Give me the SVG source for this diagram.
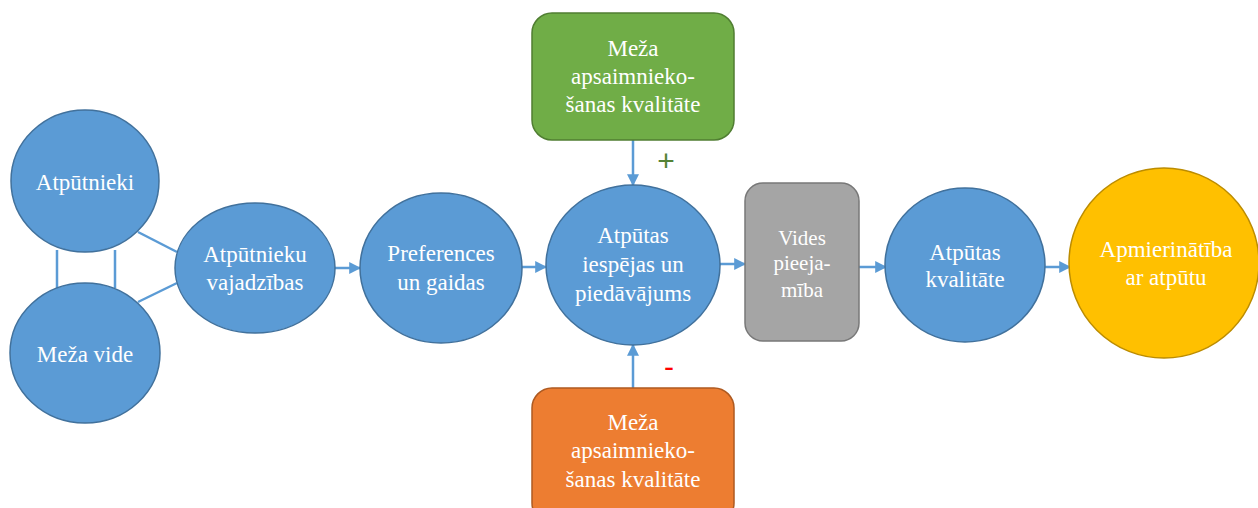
<svg xmlns="http://www.w3.org/2000/svg" width="1258" height="508" viewBox="0 0 1258 508">
<defs>
<style>
.blue{fill:#5B9BD5;stroke:#41719C;stroke-width:1.5}
.green{fill:#70AD47;stroke:#507E32;stroke-width:1.5}
.orange{fill:#ED7D31;stroke:#AE5A21;stroke-width:1.5}
.grey{fill:#A5A5A5;stroke:#787878;stroke-width:1.5}
.yellow{fill:#FFC000;stroke:#BC8C00;stroke-width:1.5}
.lbl{font-size:23px;fill:#FFFFFF;text-anchor:middle}
.small{font-size:21px}
.conn{stroke:#5B9BD5;stroke-width:2.5;fill:none}
.sign{font-size:30px;text-anchor:middle}
</style>
<marker id="arr" viewBox="0 0 10 10" refX="9" refY="5" markerWidth="4.8" markerHeight="4.8" orient="auto" markerUnits="strokeWidth">
<path d="M0,0 L10,5 L0,10 z" fill="#5B9BD5"/>
</marker>
</defs>
<rect width="1258" height="508" fill="#FFFFFF"/>
<g id="connectors">
<line class="conn" x1="57" y1="250" x2="57" y2="288"/>
<line class="conn" x1="115" y1="250" x2="115" y2="288"/>
<line class="conn" x1="138" y1="232" x2="177" y2="252"/>
<line class="conn" x1="138" y1="302" x2="177" y2="283"/>
<line class="conn" x1="335" y1="268" x2="360" y2="268" marker-end="url(#arr)"/>
<line class="conn" x1="522" y1="267" x2="546" y2="267" marker-end="url(#arr)"/>
<line class="conn" x1="633" y1="140" x2="633" y2="185" marker-end="url(#arr)"/>
<line class="conn" x1="633" y1="388" x2="633" y2="345" marker-end="url(#arr)"/>
<line class="conn" x1="720" y1="264" x2="745" y2="264" marker-end="url(#arr)"/>
<line class="conn" x1="859" y1="267" x2="886" y2="267" marker-end="url(#arr)"/>
<line class="conn" x1="1045" y1="267" x2="1070" y2="267" marker-end="url(#arr)"/>
</g>
<g font-family="Liberation Serif, DejaVu Serif, serif">
<g id="n-atputnieki">
<ellipse class="blue" cx="85" cy="181" rx="74" ry="71"/>
<text class="lbl" x="85" y="190">Atpūtnieki</text>
</g>
<g id="n-meza-vide">
<ellipse class="blue" cx="85" cy="353" rx="75" ry="70"/>
<text class="lbl" x="85" y="362">Meža vide</text>
</g>
<g id="n-vajadzibas">
<ellipse class="blue" cx="255" cy="268" rx="80" ry="65"/>
<text class="lbl" x="255" y="262">Atpūtnieku</text>
<text class="lbl" x="255" y="290">vajadzības</text>
</g>
<g id="n-preferences">
<ellipse class="blue" cx="441" cy="268" rx="81" ry="75"/>
<text class="lbl" x="441" y="261">Preferences</text>
<text class="lbl" x="441" y="290">un gaidas</text>
</g>
<g id="n-iespejas">
<ellipse class="blue" cx="633" cy="265" rx="87" ry="80"/>
<text class="lbl" x="633" y="243">Atpūtas</text>
<text class="lbl" x="633" y="272">iespējas un</text>
<text class="lbl" x="633" y="301">piedāvājums</text>
</g>
<g id="n-green">
<rect class="green" x="532" y="13" width="202" height="127" rx="20" ry="20"/>
<text class="lbl" x="633" y="56">Meža</text>
<text class="lbl" x="633" y="84">apsaimnieko-</text>
<text class="lbl" x="633" y="112">šanas kvalitāte</text>
</g>
<g id="n-orange">
<rect class="orange" x="532" y="388" width="202" height="135" rx="20" ry="20"/>
<text class="lbl" x="633" y="430">Meža</text>
<text class="lbl" x="633" y="458">apsaimnieko-</text>
<text class="lbl" x="633" y="487">šanas kvalitāte</text>
</g>
<g id="n-vides">
<rect class="grey" x="745" y="183" width="114" height="158" rx="18" ry="18"/>
<text class="lbl small" x="802" y="245">Vides</text>
<text class="lbl small" x="802" y="270">pieeja-</text>
<text class="lbl small" x="802" y="297">mība</text>
</g>
<g id="n-kvalitate">
<ellipse class="blue" cx="965" cy="265" rx="80" ry="77"/>
<text class="lbl" x="965" y="260">Atpūtas</text>
<text class="lbl" x="965" y="287">kvalitāte</text>
</g>
<g id="n-apmierinatiba">
<ellipse class="yellow" cx="1164" cy="263" rx="95" ry="95"/>
<text class="lbl" x="1166" y="257">Apmierinātība</text>
<text class="lbl" x="1166" y="285">ar atpūtu</text>
</g>
</g>
<g id="signs" font-family="Liberation Sans, Arial, sans-serif">
<text class="sign" x="666" y="171" fill="#548235">+</text>
<text class="sign" x="669" y="377" fill="#FF0000">-</text>
</g>
</svg>
